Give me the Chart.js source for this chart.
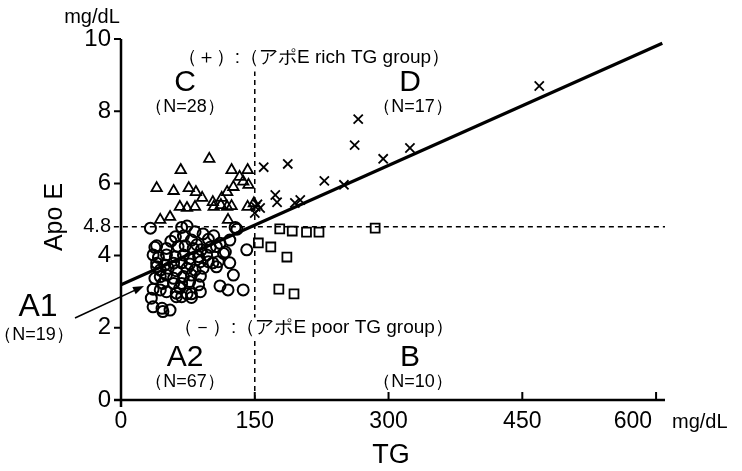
<!DOCTYPE html>
<html>
<head>
<meta charset="utf-8">
<script src="https://cdn.jsdelivr.net/npm/chart.js@4/dist/chart.umd.min.js"></script>
<style>
html, body { margin: 0; padding: 0; background: #fff; }
#wrap { width: 742px; height: 471px; }
</style>
</head>
<body>
<div id="wrap"><canvas id="chart" width="742" height="471"></canvas></div>
<script>
// group A (circles)
const circleTG = [33, 68, 74, 83, 128, 130, 61, 70, 79, 98, 111, 122, 38, 40, 51, 64, 72, 81, 90, 100, 107, 141,
    42, 51, 61, 70, 77, 87, 96, 115, 40, 49, 59, 68, 77, 89, 98, 103, 109, 122, 44, 53, 62, 74, 83, 92, 107,
    44, 51, 59, 70, 79, 89, 126, 47, 59, 68, 77, 87, 111, 120, 36, 51, 62, 74, 79, 89, 137, 34, 62, 68, 79,
    46, 55, 47, 36, 40, 38, 44, 36, 56, 92, 104, 117, 85, 66];
const circleApoE = [4.76, 4.78, 4.82, 4.66, 4.78, 4.73, 4.52, 4.54, 4.43, 4.45, 4.34, 4.43, 4.23, 4.27, 4.20, 4.25, 4.27, 4.20, 4.16, 4.23, 4.25, 4.16,
    3.95, 4.02, 3.97, 4.02, 3.92, 3.97, 4.02, 4.06, 3.79, 3.74, 3.79, 3.80, 3.77, 3.83, 3.83, 3.80, 3.83, 3.80, 3.60, 3.65, 3.58, 3.65, 3.60, 3.65, 3.69,
    3.42, 3.46, 3.37, 3.42, 3.46, 3.43, 3.46, 3.23, 3.23, 3.23, 3.28, 3.19, 3.16, 3.05, 3.07, 3.00, 2.96, 2.94, 2.94, 3.00, 3.05, 2.82, 2.86, 2.86, 2.84,
    2.54, 2.49, 2.45, 4.02, 3.69, 3.37, 3.05, 2.58, 4.40, 4.60, 4.55, 4.10, 4.30, 3.10];

// group C (triangles)
const triTG = [99, 67, 124, 142, 133, 40, 59, 76, 84, 126, 143, 119, 91, 113, 103, 66, 74, 83, 104, 119, 124, 142, 55, 44, 120, 149, 137, 112];
const triApoE = [6.68, 6.37, 6.37, 6.37, 6.18, 5.87, 5.79, 5.87, 5.76, 5.90, 5.96, 5.76, 5.60, 5.60, 5.48, 5.35, 5.32, 5.35, 5.35, 5.35, 5.37, 5.35, 5.07, 4.99, 4.99, 5.45, 6.05, 5.40];

// group D (crosses)
const crossTG = [266, 262, 324, 294, 160, 187, 228, 250, 173, 175, 195, 201, 151, 156, 150, 469, 153];
const crossApoE = [7.78, 7.06, 6.98, 6.68, 6.45, 6.54, 6.07, 5.96, 5.68, 5.48, 5.46, 5.54, 5.35, 5.32, 5.18, 8.70, 5.42];

// group B (squares)
const squareTG = [178, 192, 208, 222, 285, 154, 168, 186, 177, 194];
const squareApoE = [4.74, 4.68, 4.65, 4.65, 4.76, 4.35, 4.24, 3.96, 3.07, 2.94];

// regression line ends
const fitTG = [0, 607];
const fitApoE = [3.19, 9.88];

const cutTG = 150;
const cutApoE = 4.8;

const xTicks = [0, 150, 300, 450, 600];
const yTicks = [0, 2, 4, 4.8, 6, 8, 10];

const FONT = '"Liberation Sans", Arial, Helvetica, sans-serif';

function pts(xs, ys) {
    return xs.map((x, i) => ({ x: x, y: ys[i] }));
}

const markerBase = {
    showLine: false,
    borderColor: '#000',
    backgroundColor: 'rgba(0,0,0,0)',
    pointBorderWidth: 1.8
};

function text(ctx, str, x, y, size, align, bg) {
    ctx.font = size + 'px ' + FONT;
    ctx.textAlign = align || 'center';
    ctx.textBaseline = 'middle';
    if (bg) {
        const w = ctx.measureText(str).width;
        let left = x - w / 2;
        if (align === 'left') left = x;
        if (align === 'right') left = x - w;
        ctx.fillStyle = '#fff';
        ctx.fillRect(left - 2, y - size / 2 - 1, w + 4, size + 2);
    }
    ctx.fillStyle = '#000';
    ctx.fillText(str, x, y);
}

const axesPlugin = {
    id: 'axesPlugin',
    afterDraw(chart) {
        const ctx = chart.ctx;
        const xs = chart.scales.x;
        const ys = chart.scales.y;
        const x0 = xs.getPixelForValue(0);
        const y0 = ys.getPixelForValue(0);
        ctx.save();
        ctx.strokeStyle = '#000';
        ctx.lineCap = 'butt';

        // axis lines
        ctx.lineWidth = 2.5;
        ctx.beginPath();
        ctx.moveTo(x0, ys.getPixelForValue(10));
        ctx.lineTo(x0, y0 + 7);
        ctx.moveTo(x0 - 7, y0);
        ctx.lineTo(xs.right, y0);
        ctx.stroke();

        // ticks
        ctx.lineWidth = 2;
        ctx.beginPath();
        yTicks.forEach(v => {
            if (v === cutApoE) return;
            const py = ys.getPixelForValue(v);
            ctx.moveTo(x0 - 7, py);
            ctx.lineTo(x0, py);
        });
        xTicks.forEach(v => {
            if (v === 0) return;
            const px = xs.getPixelForValue(v);
            ctx.moveTo(px, y0);
            ctx.lineTo(px, y0 - 8);
        });
        ctx.stroke();

        yTicks.forEach(v => {
            const size = v === cutApoE ? 20 : 24;
            text(ctx, String(v), x0 - 10, ys.getPixelForValue(v), size, 'right');
        });
        xTicks.forEach(v => {
            const px = xs.getPixelForValue(v);
            if (v === 600) text(ctx, String(v), px - 4, y0 + 22, 23, 'right');
            else text(ctx, String(v), px, y0 + 22, 23, 'center');
        });

        // units and axis titles
        text(ctx, 'mg/dL', 92, 17, 20, 'center');
        text(ctx, 'mg/dL', 672, 422, 20, 'left');
        text(ctx, 'TG', 391, 456, 27, 'center');
        ctx.save();
        ctx.translate(55, 217);
        ctx.rotate(-Math.PI / 2);
        text(ctx, 'Apo E', 0, 0, 25, 'center');
        ctx.restore();

        // group labels
        text(ctx, '（＋）:（アポE rich TG group）', 314, 58, 19, 'center', true);
        text(ctx, '（－）:（アポE poor TG group）', 314, 328, 19, 'center', true);
        text(ctx, 'C', 185, 83, 30, 'center');
        text(ctx, '（N=28）', 185, 107, 18, 'center');
        text(ctx, 'D', 410, 83, 30, 'center');
        text(ctx, '（N=17）', 413, 107, 18, 'center');
        text(ctx, 'A2', 185, 358, 30, 'center');
        text(ctx, '（N=67）', 185, 382, 18, 'center');
        text(ctx, 'B', 410, 358, 30, 'center');
        text(ctx, '（N=10）', 413, 382, 18, 'center');
        text(ctx, 'A1', 38, 307, 32, 'center');
        text(ctx, '（N=19）', 34, 335, 18, 'center');

        // arrow to A1 cluster
        const ax0 = 75, ay0 = 318, ax1 = 144, ay1 = 286;
        const ang = Math.atan2(ay1 - ay0, ax1 - ax0);
        ctx.lineWidth = 1.6;
        ctx.beginPath();
        ctx.moveTo(ax0, ay0);
        ctx.lineTo(ax1 - 8 * Math.cos(ang), ay1 - 8 * Math.sin(ang));
        ctx.stroke();
        ctx.fillStyle = '#000';
        ctx.beginPath();
        ctx.moveTo(ax1, ay1);
        ctx.lineTo(ax1 - 11 * Math.cos(ang) + 4 * Math.sin(ang), ay1 - 11 * Math.sin(ang) - 4 * Math.cos(ang));
        ctx.lineTo(ax1 - 11 * Math.cos(ang) - 4 * Math.sin(ang), ay1 - 11 * Math.sin(ang) + 4 * Math.cos(ang));
        ctx.closePath();
        ctx.fill();
        ctx.restore();
    }
};

new Chart(document.getElementById('chart'), {
    type: 'scatter',
    data: {
        datasets: [
            {
                label: 'cut TG',
                data: [{ x: cutTG, y: 0 }, { x: cutTG, y: 9.1 }],
                showLine: true, pointRadius: 0, borderColor: '#000', borderWidth: 1.5,
                borderDash: [5, 4], clip: false
            },
            {
                label: 'cut ApoE',
                data: [{ x: -8, y: cutApoE }, { x: 610, y: cutApoE }],
                showLine: true, pointRadius: 0, borderColor: '#000', borderWidth: 1.5,
                borderDash: [5, 4], clip: false
            },
            {
                label: 'fit',
                data: pts(fitTG, fitApoE),
                showLine: true, pointRadius: 0, borderColor: '#000', borderWidth: 3.2
            },
            Object.assign({ label: 'A', data: pts(circleTG, circleApoE), pointStyle: 'circle', pointRadius: 5.5 }, markerBase, { pointBorderWidth: 2 }),
            Object.assign({ label: 'C', data: pts(triTG, triApoE), pointStyle: 'triangle', pointRadius: 6 }, markerBase),
            Object.assign({ label: 'D', data: pts(crossTG, crossApoE), pointStyle: 'crossRot', pointRadius: 6.5 }, markerBase),
            Object.assign({ label: 'B', data: pts(squareTG, squareApoE), pointStyle: 'rect', pointRadius: 6.3 }, markerBase)
        ]
    },
    options: {
        responsive: false,
        animation: false,
        devicePixelRatio: 1,
        layout: { padding: { left: 121, right: 77, top: 39, bottom: 71 } },
        plugins: { legend: { display: false }, tooltip: { enabled: false } },
        scales: {
            x: { type: 'linear', min: 0, max: 610, display: false },
            y: { type: 'linear', min: 0, max: 10, display: false }
        }
    },
    plugins: [axesPlugin]
});
</script>
</body>
</html>
